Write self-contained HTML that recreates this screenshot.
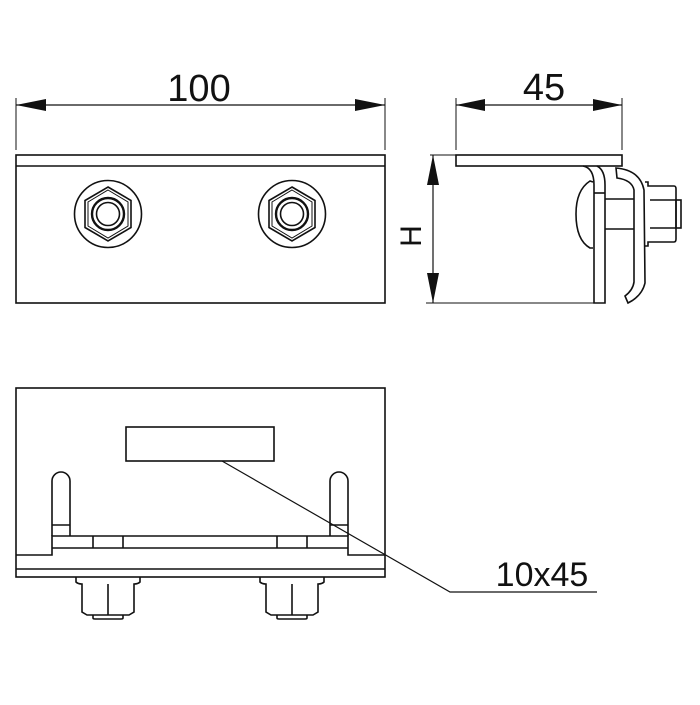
<!DOCTYPE html>
<html><head><style>html,body{margin:0;padding:0;background:#fff}</style></head>
<body>
<svg width="700" height="700" viewBox="0 0 700 700" xmlns="http://www.w3.org/2000/svg" fill="none" stroke="#111" stroke-width="1.6" font-family="Liberation Sans, sans-serif">
<line x1="16" y1="98" x2="16" y2="150" stroke-width="1"/>
<line x1="385" y1="98" x2="385" y2="150" stroke-width="1"/>
<line x1="16" y1="105" x2="385" y2="105" stroke-width="1.2"/>
<polygon points="16,105 46,99 46,111" fill="#111" stroke="none"/>
<polygon points="385,105 355,99 355,111" fill="#111" stroke="none"/>
<text x="199" y="101" font-size="38" text-anchor="middle" fill="#111" stroke="none">100</text>
<line x1="456" y1="98" x2="456" y2="150" stroke-width="1"/>
<line x1="622" y1="98" x2="622" y2="150" stroke-width="1"/>
<line x1="456" y1="105" x2="622" y2="105" stroke-width="1.2"/>
<polygon points="456,105 485,99 485,111" fill="#111" stroke="none"/>
<polygon points="622,105 593,99 593,111" fill="#111" stroke="none"/>
<text x="544" y="100" font-size="38" text-anchor="middle" fill="#111" stroke="none">45</text>
<rect x="16" y="155" width="369" height="148"/>
<line x1="16" y1="166" x2="385" y2="166"/>
<g>
<circle cx="108" cy="214" r="33.5"/>
<polygon points="108,187 131,200.5 131,227.5 108,241 85,227.5 85,200.5"/>
<polygon points="108,190 128,202 128,226 108,238 88,226 88,202" stroke-width="1"/>
<circle cx="108" cy="214" r="16" stroke-width="2.4"/>
<circle cx="108" cy="214" r="11.5"/>
</g>
<g>
<circle cx="292" cy="214" r="33.5"/>
<polygon points="292,187 315,200.5 315,227.5 292,241 269,227.5 269,200.5"/>
<polygon points="292,190 312,202 312,226 292,238 272,226 272,202" stroke-width="1"/>
<circle cx="292" cy="214" r="16" stroke-width="2.4"/>
<circle cx="292" cy="214" r="11.5"/>
</g>
<line x1="430" y1="155" x2="456" y2="155" stroke-width="1"/>
<line x1="426" y1="303" x2="596" y2="303" stroke-width="1"/>
<line x1="433" y1="155" x2="433" y2="303" stroke-width="1.2"/>
<polygon points="433,155 427,185 439,185" fill="#111" stroke="none"/>
<polygon points="433,303 427,273 439,273" fill="#111" stroke="none"/>
<text x="0" y="0" font-size="30" text-anchor="middle" fill="#111" stroke="none" transform="translate(421,236) rotate(-90)">H</text>
<rect x="456" y="155" width="166" height="11"/>
<path d="M583,166 Q594,168 594,185 L594,303 L605,303 L605,185 Q605,170 597,166"/>
<line x1="594" y1="193" x2="605" y2="193"/>
<path d="M593,182 L590,181 Q576,190 576,214 Q576,240 590,248 L593,248"/>
<path d="M616,168 Q640,170 644,190 L645,283 Q642,296 628,303 L625,296 Q633,290 634,282 L634,190 Q632,180 617,178 Z"/>
<line x1="605" y1="199" x2="634" y2="199"/>
<line x1="605" y1="229" x2="634" y2="229"/>
<path d="M645,182 L648,182 L648,186 L674,186 Q676,186 676,189 L676,239 Q676,242 674,242 L648,242 L648,246 L645,246"/>
<line x1="650" y1="200" x2="676" y2="200"/>
<line x1="650" y1="228" x2="676" y2="228"/>
<rect x="676" y="200" width="5" height="28"/>
<rect x="16" y="388" width="369" height="189"/>
<line x1="16" y1="569" x2="385" y2="569"/>
<polyline points="16,555 52,555 52,536 348,536 348,555 385,555"/>
<line x1="52" y1="548" x2="348" y2="548"/>
<line x1="93" y1="536" x2="93" y2="548"/>
<line x1="123" y1="536" x2="123" y2="548"/>
<line x1="277" y1="536" x2="277" y2="548"/>
<line x1="307" y1="536" x2="307" y2="548"/>
<path d="M52,536 L52,481 A9,9 0 0 1 70,481 L70,536"/>
<line x1="52" y1="525" x2="70" y2="525"/>
<path d="M330,536 L330,481 A9,9 0 0 1 348,481 L348,536"/>
<line x1="330" y1="525" x2="348" y2="525"/>
<rect x="126" y="427" width="148" height="34"/>
<polyline points="222,461 450,592 597,592" stroke-width="1.2"/>
<text x="542" y="586" font-size="34" text-anchor="middle" fill="#111" stroke="none">10x45</text>
<g>
<path d="M76,577 L76,582 Q78,584 82,584 L82,612 L87,615 L129,615 L134,612 L134,584 Q138,584 140,582 L140,577"/>
<line x1="108" y1="584" x2="108" y2="615"/>
<path d="M93,615 L93,618 Q93,619 95,619 L121,619 Q123,619 123,618 L123,615"/>
</g>
<g>
<path d="M260,577 L260,582 Q262,584 266,584 L266,612 L271,615 L313,615 L318,612 L318,584 Q322,584 324,582 L324,577"/>
<line x1="292" y1="584" x2="292" y2="615"/>
<path d="M277,615 L277,618 Q277,619 279,619 L305,619 Q307,619 307,618 L307,615"/>
</g>
</svg>
</body></html>
